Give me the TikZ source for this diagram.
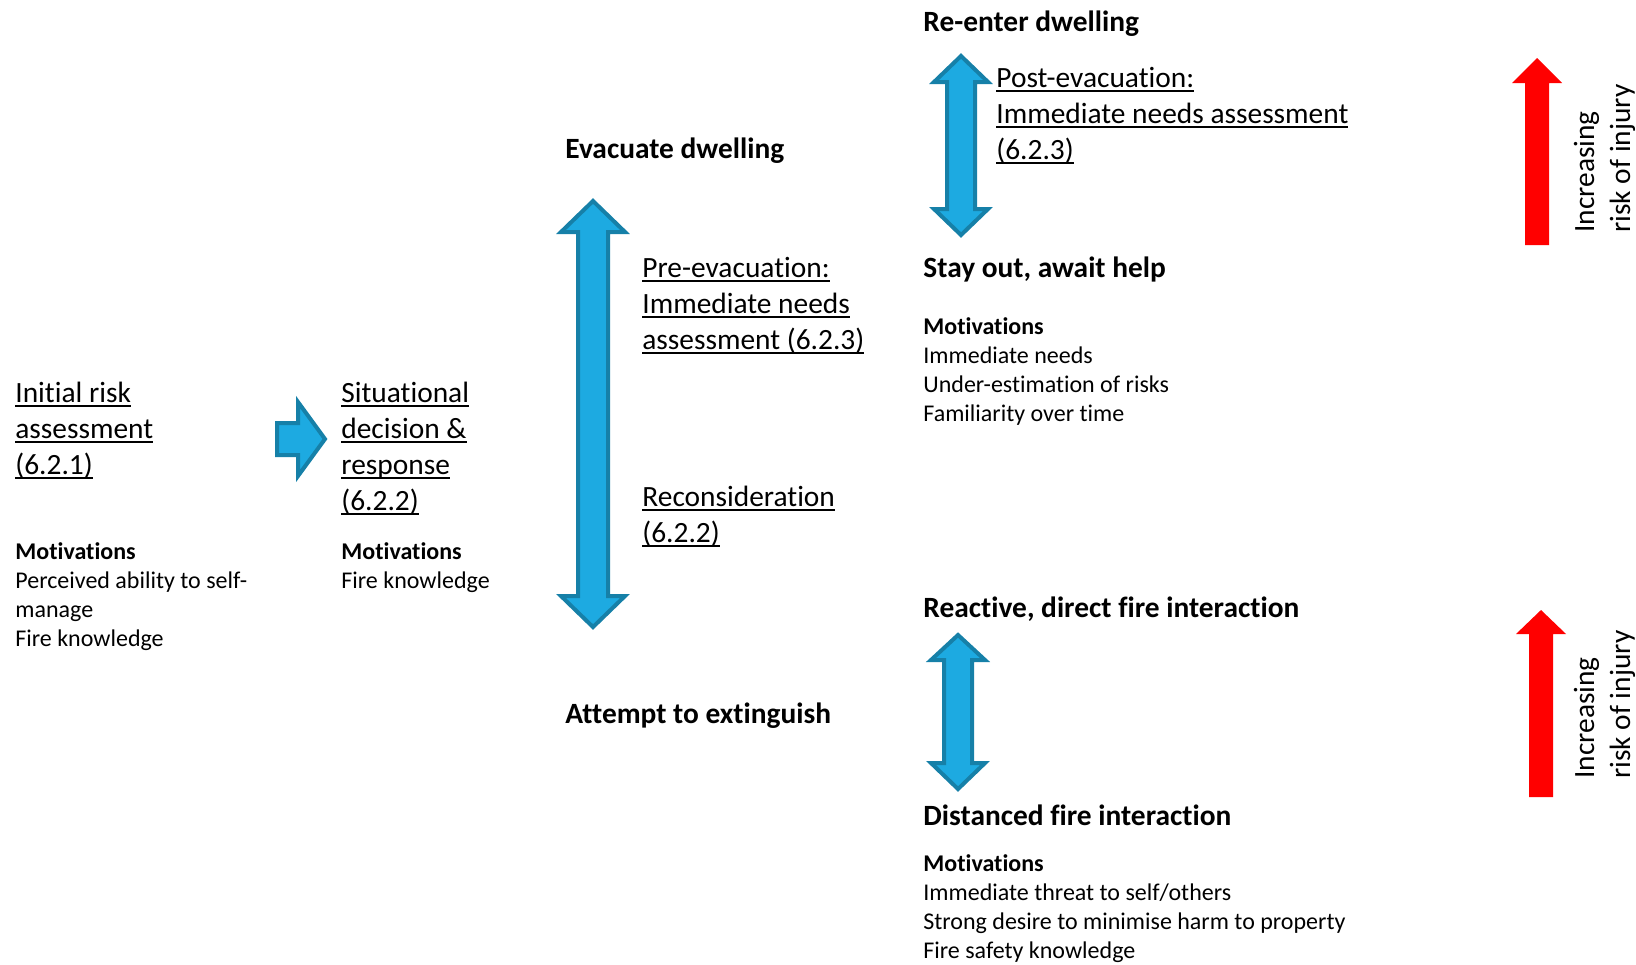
\documentclass[tikz,border=0pt]{standalone}
\usepackage{fontspec}
\setmainfont{Carlito}[Ligatures=NoCommon]
\usetikzlibrary{calc,positioning}
\definecolor{arrowfill}{RGB}{29,170,225}
\definecolor{arrowline}{RGB}{22,128,168}
\newcommand{\ulin}[1]{\setbox0\hbox{#1}\rlap{\rule[-2.4pt]{\wd0}{1pt}}\box0}
\tikzset{big/.style={anchor=base west,inner sep=0,align=left,font=\fontsize{14.7}{18}\selectfont},
head/.style={big,font=\fontsize{14.7}{18}\selectfont\bfseries},
small/.style={anchor=base west,inner sep=0,align=left,font=\fontsize{12}{14.5}\selectfont},
blk/.style={fill=arrowfill,draw=arrowline,line width=2pt,line join=miter},
redarr/.style={fill=red}}
\begin{document}
\begin{tikzpicture}[x=0.5pt,y=-0.5pt]
\useasboundingbox(0,0)rectangle(1636,964);
\node[big](init)at(15,474){\ulin{Initial risk}\\\ulin{assessment}\\\ulin{(6.2.1)}};
\node[small](initmot)at(15,646){\textbf{Motivations}\\Perceived ability to self-\\manage\\Fire knowledge};
\draw[blk](277,423)--(298,423)--(298,402)--(325,439)--(298,476)--(298,455)--(277,455)--cycle;
\node[big](situ)at(341,510){\ulin{Situational}\\\ulin{decision \&}\\\ulin{response}\\\ulin{(6.2.2)}};
\node[small](situmot)at(341,588){\textbf{Motivations}\\Fire knowledge};
\node[head](evac)at(565,158){Evacuate dwelling};
\draw[blk](593,201)--(625,232)--(608,232)--(608,596)--(625,596)--(593,627)--(561,596)--(578,596)--(578,232)--(561,232)--cycle;
\node[big](pre)at(642,349){\ulin{Pre-evacuation:}\\\ulin{Immediate needs}\\\ulin{assessment (6.2.3)}};
\node[big](recon)at(642,542){\ulin{Reconsideration}\\\ulin{(6.2.2)}};
\node[head](ext)at(565,723){Attempt to extinguish};
\node[head](reenter)at(923,31){Re-enter dwelling};
\draw[blk](961,56)--(988,82)--(975,82)--(975,209)--(988,209)--(961,235)--(934,209)--(947,209)--(947,82)--(934,82)--cycle;
\node[big](post)at(996,159){\ulin{Post-evacuation:}\\\ulin{Immediate needs assessment}\\\ulin{(6.2.3)}};
\node[head](stay)at(923,277){Stay out, await help};
\node[small](staymot)at(923,421){\textbf{Motivations}\\Immediate needs\\Under-estimation of risks\\Familiarity over time};
\node[head](react)at(923,617){Reactive, direct fire interaction};
\draw[blk](958,635)--(985,660)--(972,660)--(972,763)--(985,763)--(958,789)--(931,763)--(944,763)--(944,660)--(931,660)--cycle;
\node[head](dist)at(923,825){Distanced fire interaction};
\node[small](distmot)at(923,958){\textbf{Motivations}\\Immediate threat to self/others\\Strong desire to minimise harm to property\\Fire safety knowledge};
\fill[redarr](1537,58)--(1562,83)--(1549,83)--(1549,245)--(1525,245)--(1525,83)--(1512,83)--cycle;
\node[big,rotate=90](risktop)at(1630,233){Increasing\\risk of injury};
\fill[redarr](1541,610)--(1566,634)--(1553,634)--(1553,797)--(1529,797)--(1529,634)--(1516,634)--cycle;
\node[big,rotate=90](riskbot)at(1630,779){Increasing\\risk of injury};
\end{tikzpicture}
\end{document}
